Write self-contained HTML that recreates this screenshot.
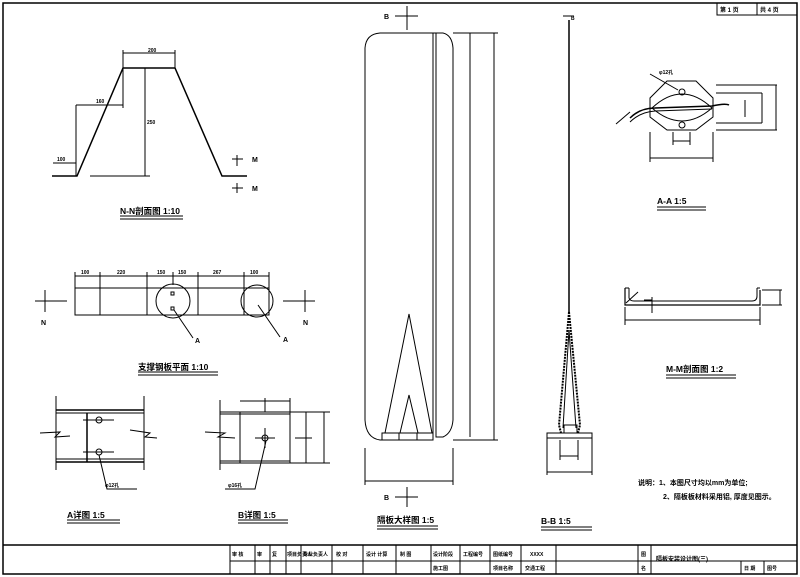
<!DOCTYPE html>
<html><head><meta charset="utf-8"><style>
html,body{margin:0;padding:0;background:#fff;}
svg{display:block;}
text{font-family:"Liberation Sans","Noto Sans CJK SC",sans-serif;fill:#000;}
</style></head><body>
<svg width="800" height="577" viewBox="0 0 800 577" xmlns="http://www.w3.org/2000/svg">
<g fill="none" stroke="#000" stroke-width="1">
<!-- border -->
<rect x="3" y="3" width="794" height="571" stroke-width="1.5"/>
<line x1="3" y1="545" x2="797" y2="545" stroke-width="1.5"/>
<line x1="230" y1="561" x2="797" y2="561"/>
<g>
<line x1="230" y1="545" x2="230" y2="574"/><line x1="255" y1="545" x2="255" y2="574"/>
<line x1="270" y1="545" x2="270" y2="574"/><line x1="286" y1="545" x2="286" y2="574"/>
<line x1="301" y1="545" x2="301" y2="574"/><line x1="332" y1="545" x2="332" y2="574"/>
<line x1="363" y1="545" x2="363" y2="574"/><line x1="396" y1="545" x2="396" y2="574"/>
<line x1="431" y1="545" x2="431" y2="574"/><line x1="460" y1="545" x2="460" y2="574"/>
<line x1="490" y1="545" x2="490" y2="574"/><line x1="521" y1="545" x2="521" y2="574"/>
<line x1="556" y1="545" x2="556" y2="574"/><line x1="638" y1="545" x2="638" y2="574"/>
<line x1="651" y1="545" x2="651" y2="574"/><line x1="741" y1="561" x2="741" y2="574"/>
<line x1="764" y1="561" x2="764" y2="574"/>
</g>
<!-- top-right page box -->
<rect x="717" y="3" width="80" height="12"/><line x1="757" y1="3" x2="757" y2="15"/>

<!-- N-N section -->
<polyline points="52,176 77,176 123,68 175,68 222,176 247,176" stroke-width="1.5"/>
<line x1="123" y1="53" x2="175" y2="53"/><line x1="123" y1="50" x2="123" y2="68"/><line x1="175" y1="50" x2="175" y2="68"/>
<line x1="145" y1="68" x2="145" y2="176"/><line x1="90" y1="176" x2="150" y2="176"/>
<line x1="76" y1="105" x2="123" y2="105"/><line x1="76" y1="105" x2="76" y2="176"/><line x1="123" y1="68" x2="123" y2="108"/>
<line x1="53" y1="163" x2="76" y2="163"/>
<line x1="237" y1="155" x2="237" y2="166"/><line x1="232" y1="159" x2="243" y2="159"/>
<line x1="237" y1="183" x2="237" y2="193"/><line x1="232" y1="188" x2="243" y2="188"/>
<line x1="120" y1="216" x2="183" y2="216"/><line x1="120" y1="219" x2="183" y2="219"/>

<!-- support plate plan -->
<rect x="75" y="288" width="194" height="27"/>
<line x1="100" y1="288" x2="100" y2="315"/><line x1="147" y1="288" x2="147" y2="315"/>
<line x1="198" y1="288" x2="198" y2="315"/><line x1="244" y1="288" x2="244" y2="315"/>
<line x1="75" y1="276" x2="269" y2="276"/>
<line x1="75" y1="272" x2="75" y2="288"/><line x1="100" y1="272" x2="100" y2="288"/><line x1="147" y1="272" x2="147" y2="288"/><line x1="173" y1="272" x2="173" y2="285"/><line x1="198" y1="272" x2="198" y2="288"/><line x1="244" y1="272" x2="244" y2="288"/><line x1="269" y1="272" x2="269" y2="288"/>
<circle cx="173" cy="301" r="17"/><circle cx="257" cy="301" r="16"/>
<rect x="171" y="292" width="3" height="3"/><rect x="171" y="307" width="3" height="3"/>
<line x1="174" y1="310" x2="193" y2="338"/><line x1="258" y1="305" x2="280" y2="337"/>
<line x1="35" y1="301" x2="67" y2="301"/><line x1="45" y1="290" x2="45" y2="312"/>
<line x1="283" y1="301" x2="315" y2="301"/><line x1="305" y1="290" x2="305" y2="312"/>
<line x1="138" y1="372" x2="218" y2="372"/><line x1="138" y1="375" x2="218" y2="375"/>

<!-- A detail -->
<line x1="56" y1="396" x2="56" y2="470"/><line x1="144" y1="396" x2="144" y2="470"/>
<line x1="56" y1="410" x2="144" y2="410" stroke-width="1.5"/><line x1="56" y1="413" x2="144" y2="413"/>
<line x1="56" y1="462" x2="144" y2="462" stroke-width="1.5"/><line x1="56" y1="459" x2="144" y2="459"/>
<line x1="87" y1="413" x2="87" y2="462" stroke-width="1.5"/>
<line x1="83" y1="420" x2="114" y2="420"/><line x1="83" y1="452" x2="114" y2="452"/>
<circle cx="99" cy="420" r="3"/><circle cx="99" cy="452" r="3"/>
<polyline points="40,433 60,432 55,437 70,436"/><polyline points="130,430 150,433 145,437 157,438"/>
<polyline points="99,455 107,489 137,489"/>
<line x1="67" y1="520" x2="120" y2="520"/><line x1="67" y1="523" x2="120" y2="523"/>

<!-- B detail -->
<line x1="220" y1="400" x2="220" y2="470"/>
<rect x="220" y="412" width="70" height="51"/><line x1="240" y1="412" x2="240" y2="463"/>
<line x1="220" y1="414" x2="290" y2="414"/><line x1="220" y1="461" x2="290" y2="461"/>
<line x1="255" y1="438" x2="275" y2="438"/><circle cx="265" cy="438" r="3"/><line x1="265" y1="428" x2="265" y2="448"/>
<line x1="240" y1="401" x2="290" y2="401"/><line x1="265" y1="398" x2="265" y2="412"/><line x1="290" y1="398" x2="290" y2="412"/>
<line x1="290" y1="412" x2="330" y2="412"/><line x1="290" y1="463" x2="330" y2="463"/><line x1="295" y1="438" x2="312" y2="438"/>
<line x1="306" y1="412" x2="306" y2="463"/><line x1="324" y1="412" x2="324" y2="463"/>
<polyline points="205,432 225,433 218,437 235,438"/>
<polyline points="266,441 255,489 225,489"/>
<line x1="238" y1="520" x2="288" y2="520"/><line x1="238" y1="523" x2="288" y2="523"/>

<!-- big panel -->
<path d="M380,33 H433 V440 H380 Q366,438 365,420 V48 Q366,34 380,33 Z"/>
<path d="M436,33 H443 Q452,35 453,48 V420 Q452,433 443,437 H436 Z"/>
<line x1="433" y1="33" x2="436" y2="33"/>
<rect x="382" y="433" width="51" height="7"/>
<line x1="399" y1="433" x2="399" y2="440"/><line x1="417" y1="433" x2="417" y2="440"/>
<polyline points="385,433 409,314 432,433"/><polyline points="400,433 409,395 418,433"/>
<line x1="453" y1="33" x2="498" y2="33"/><line x1="453" y1="440" x2="498" y2="440"/>
<line x1="470" y1="33" x2="470" y2="437"/><line x1="494" y1="33" x2="494" y2="440"/>
<line x1="365" y1="448" x2="365" y2="485"/><line x1="453" y1="448" x2="453" y2="485"/>
<line x1="365" y1="481" x2="453" y2="481"/>
<line x1="395" y1="16" x2="418" y2="16"/><line x1="407" y1="6" x2="407" y2="30"/>
<line x1="395" y1="497" x2="418" y2="497"/><line x1="407" y1="487" x2="407" y2="507"/>
<line x1="377" y1="526" x2="438" y2="526"/><line x1="377" y1="529" x2="438" y2="529"/>

<!-- B-B -->
<line x1="569" y1="20" x2="569" y2="312" stroke-width="1.5"/>
<line x1="563" y1="16" x2="574" y2="16"/>
<path d="M569,312 L559,425 L561,433 M569,312 L580,425 L578,433" stroke-width="2" stroke-dasharray="2,1"/>
<path d="M569,330 L563,428 M569,330 L576,428"/>
<rect x="564" y="425" width="13" height="8"/>
<rect x="547" y="433" width="45" height="5"/>
<line x1="547" y1="438" x2="547" y2="475"/><line x1="592" y1="438" x2="592" y2="475"/>
<line x1="547" y1="472" x2="592" y2="472"/>
<line x1="560" y1="440" x2="560" y2="460"/><line x1="578" y1="440" x2="578" y2="460"/>
<line x1="560" y1="456" x2="578" y2="456"/>
<line x1="541" y1="527" x2="592" y2="527"/><line x1="541" y1="530" x2="592" y2="530"/>

<!-- A-A -->
<polygon points="667,81 696,81 713,98 713,117 696,130 667,130 650,117 650,98"/>
<path d="M652,108 Q667,94 682,94 Q697,94 712,108 Q697,121 682,121 Q667,121 652,108 Z"/>
<circle cx="682" cy="92" r="3"/><circle cx="682" cy="125" r="3"/>
<path d="M630,118 Q640,108 655,108 L712,106 Q725,103 729,105" stroke-width="1.5"/>
<path d="M630,122 Q640,112 655,111 L712,109" />
<line x1="616" y1="124" x2="630" y2="112"/>
<line x1="650" y1="74" x2="678" y2="90"/>
<line x1="716" y1="85" x2="777" y2="85"/><line x1="716" y1="93" x2="762" y2="93"/>
<line x1="716" y1="123" x2="762" y2="123"/><line x1="716" y1="130" x2="777" y2="130"/>
<line x1="745" y1="100" x2="745" y2="117"/><line x1="762" y1="93" x2="762" y2="123"/><line x1="776" y1="85" x2="776" y2="130"/>
<line x1="673" y1="132" x2="673" y2="145"/><line x1="690" y1="132" x2="690" y2="145"/><line x1="673" y1="141" x2="690" y2="141"/>
<line x1="650" y1="132" x2="650" y2="162"/><line x1="713" y1="132" x2="713" y2="162"/><line x1="650" y1="158" x2="713" y2="158"/>
<line x1="657" y1="207" x2="706" y2="207"/><line x1="657" y1="210" x2="706" y2="210"/>

<!-- M-M -->
<path d="M625,288 V305 H760 V290" stroke-width="1.2"/>
<path d="M629,288 V298 Q630,301 634,301 H752 Q757,301 757,296 V288"/>
<line x1="625" y1="288" x2="629" y2="288"/><line x1="757" y1="288" x2="760" y2="288"/>
<line x1="626" y1="303" x2="638" y2="292"/>
<line x1="652" y1="297" x2="652" y2="313"/><line x1="644" y1="300" x2="652" y2="300"/>
<line x1="625" y1="307" x2="625" y2="325"/><line x1="760" y1="307" x2="760" y2="325"/><line x1="625" y1="320" x2="760" y2="320"/>
<line x1="762" y1="290" x2="782" y2="290"/><line x1="762" y1="305" x2="782" y2="305"/><line x1="780" y1="290" x2="780" y2="305"/>
<line x1="666" y1="375" x2="736" y2="375"/><line x1="666" y1="378" x2="736" y2="378"/>
</g>

<g font-size="7" font-weight="bold">
<text x="148" y="52" font-size="5">200</text>
<text x="96" y="103" font-size="5">160</text>
<text x="57" y="161" font-size="5">100</text>
<text x="147" y="124" font-size="5">250</text>
<text x="252" y="162">M</text><text x="252" y="191">M</text>
<text x="120" y="214" font-size="8.5">N-N剖面图 1:10</text>
<text x="81" y="274" font-size="5">100</text><text x="117" y="274" font-size="5">220</text><text x="157" y="274" font-size="5">150</text><text x="178" y="274" font-size="5">150</text><text x="213" y="274" font-size="5">267</text><text x="250" y="274" font-size="5">100</text>
<text x="41" y="325">N</text><text x="303" y="325">N</text>
<text x="195" y="343">A</text><text x="283" y="342">A</text>
<text x="138" y="370" font-size="8.5">支撑钢板平面 1:10</text>
<text x="67" y="518" font-size="8.5">A详图 1:5</text>
<text x="238" y="518" font-size="8.5">B详图 1:5</text>
<text x="105" y="487" font-size="5">φ12孔</text><text x="228" y="487" font-size="5">φ16孔</text>
<text x="384" y="19">B</text><text x="384" y="500">B</text>
<text x="377" y="523" font-size="8.5">隔板大样图 1:5</text>
<text x="541" y="524" font-size="8.5">B-B 1:5</text>
<text x="571" y="20" font-size="5">B</text>
<text x="659" y="74" font-size="5">φ12孔</text>
<text x="657" y="204" font-size="8.5">A-A 1:5</text>
<text x="666" y="372" font-size="8.5">M-M剖面图 1:2</text>
<text x="638" y="485" font-size="7">说明：1、本图尺寸均以mm为单位;</text>
<text x="663" y="499" font-size="7">2、隔板板材料采用铝, 厚度见图示。</text>
<text x="720" y="12" font-size="6">第 1 页</text><text x="760" y="12" font-size="6">共 4 页</text>
<g font-size="5">
<text x="232" y="556">审 核</text><text x="257" y="556">审</text><text x="272" y="556">复</text><text x="287" y="556">项目负责人</text><text x="303" y="556">专业负责人</text><text x="336" y="556">校 对</text><text x="366" y="556">设计 计算</text><text x="400" y="556">制 图</text><text x="433" y="556">设计阶段</text><text x="463" y="556">工程编号</text><text x="493" y="556">图纸编号</text><text x="530" y="556">XXXX</text>
<text x="433" y="570">施工图</text><text x="493" y="570">项目名称</text><text x="525" y="570">交通工程</text>
<text x="641" y="556">图</text><text x="641" y="570">名</text>
<text x="656" y="561" font-size="6">隔板安装设计图(三)</text>
<text x="744" y="570">日 期</text><text x="767" y="570">图号</text>
</g>
</g>
</svg>
</body></html>
